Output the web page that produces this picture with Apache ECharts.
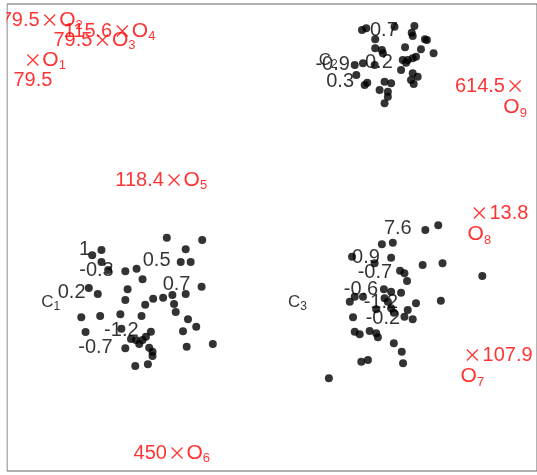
<!DOCTYPE html>
<html><head><meta charset="utf-8">
<script src="https://cdn.jsdelivr.net/npm/echarts@6/dist/echarts.min.js"></script>
<style>html,body{margin:0;padding:0;background:#fff}#c{width:537px;height:475px}</style>
</head><body><div id="c"></div>
<script>
// Cluster points (coordinates; y grows downward)
const clusterC1 = [[167.7,237.7],[203.3,240],[102,250],[92.7,255.3],[186.7,249.3],[102,262],[108.7,270],[126,271.3],[137.3,268.7],[181.7,262],[191.7,262],[143.3,279.3],[89.3,288],[98.3,294],[128.3,289.3],[126,300],[202.7,286.7],[186.7,294],[173.3,295],[164,297.7],[154,298.7],[146,304.7],[175,304],[176.7,312],[81.7,317.3],[100.7,316],[121,314.3],[142.3,316],[189,319.3],[197.3,326.7],[86,332],[122,328.7],[184,331.3],[151.7,331.7],[146.7,336.7],[143.3,340],[140,344],[136.7,340],[131.7,339],[126,348.3],[150,347.7],[153.3,351.7],[153.3,356],[187.7,346.7],[214,344],[136,366],[148.7,364.3]];
const clusterC2 = [[364,30],[368.3,28.3],[377.3,39.3],[396.7,26.7],[416.7,26],[414,32.7],[415,36],[427.3,39.3],[429.3,40],[377.3,48.3],[384,50],[385,53.3],[407.3,47.3],[423.3,49.3],[436,53.3],[418.3,56.7],[415,58.3],[410,60],[405,60],[408.3,62.7],[365,63.3],[356.7,65],[376.7,65],[403.3,70],[415,73.3],[420,76.7],[358.3,75],[413.3,80],[416,84],[369.3,82.7],[366.7,85],[386.7,81.7],[393.3,83.3],[381.7,90],[390,91.7],[390,96.7],[386.7,103.3]];
const clusterC3 = [[427.7,230],[440.7,225.3],[384,244.3],[395,242.7],[354,256.7],[393.3,257.7],[376.7,263.3],[425,265],[445,263.3],[402.3,270.7],[406.7,273.3],[409.3,281],[485,276],[386,289.3],[393.3,291.7],[403.3,292.7],[356.7,296.7],[365,296.7],[351.7,301.7],[386.7,298.3],[390,301.7],[418.3,303.3],[443.3,300.7],[378.3,309.3],[393.3,308.3],[396,312.7],[410,310],[406.7,316.7],[415,319.3],[355,317.3],[356.7,331.7],[361.7,334.3],[371.7,331],[378.3,333.3],[380,337.3],[396,343.3],[404,351.7],[363.3,361.7],[370,360],[405.3,363.3],[330.7,378.3]];

// Point annotations (text and where it sits)
const noteTexts = ['1','-0.3','0.2','0.5','0.7','-1.2','-0.7','0.7','-0.9','0.2','0.3','7.6','0.9','-0.7','-0.6','-1.2','-0.2'];
const notePos = [[85,249],[97,270],[72,292],[157.5,260],[177.5,284],[122,330],[96,347],[386,30],[334.5,64],[381,62],[342,81.5],[400,228],[368,257.5],[377,272],[363,289],[383,302],[385,318]];

// Cluster names
const clusterNames = ['1','2','3'];
const clusterNamePos = [[51,302],[330,60],[299,302]];

// Outliers
const outIds = ['1','2','3','4','5','6','7','8','9'];
const outValues = ['79.5','79.5','79.5','115.6','118.4','450','107.9','13.8','614.5'];
const outPos = [[33,60],[50,20],[103,40],[123,31],[175,180],[178,453],[475,355],[482,213],[518,86]];
const outValueSide = ['bottom','left','left','left','left','left','right','right','left'];
const outIdSide = ['right','right','right','right','right','right','bottom','bottom','bottom'];

const FONT = '"Liberation Sans", Arial, sans-serif';
const RED = '#ff0000';
const INK = '#000000';

const chart = echarts.init(document.getElementById('c'), null, {renderer:'canvas'});
const hidden = {show:false};
chart.setOption({
  animation:false,
  backgroundColor:'#ffffff',
  grid:{left:7, top:4, right:-3, bottom:4, show:true, borderColor:'#666', borderWidth:1, backgroundColor:'transparent'},
  xAxis:{type:'value', min:7, max:540, axisLine:hidden, axisTick:hidden, axisLabel:hidden, splitLine:hidden},
  yAxis:{type:'value', min:4, max:471, inverse:true, axisLine:hidden, axisTick:hidden, axisLabel:hidden, splitLine:hidden},
  graphic:[{type:'rect', z:1000, shape:{x:0, y:0, width:6.5, height:475}, style:{fill:'#ffffff'}, silent:true}],
  series:[
    {type:'scatter', z:1, symbolSize:1, itemStyle:{color:'rgba(0,0,0,0)'},
     data: noteTexts.map((t,i)=>({value:notePos[i], name:t})),
     label:{show:true, position:'inside', formatter:p=>p.name, color:INK, fontFamily:FONT, fontSize:20}},
    {type:'scatter', z:1, symbolSize:1, itemStyle:{color:'rgba(0,0,0,0)'},
     data: clusterNames.map((t,i)=>({value:clusterNamePos[i], name:t})),
     label:{show:true, position:'inside', formatter:p=>'{c|C}{s|'+p.name+'}', color:INK, fontFamily:FONT,
       rich:{c:{fontSize:17, fontFamily:FONT, color:INK}, s:{fontSize:12, fontFamily:FONT, color:INK, padding:[9,0,0,0]}}}},
    {type:'scatter', z:3, symbolSize:8, itemStyle:{color:'#000'}, data:clusterC1},
    {type:'scatter', z:3, symbolSize:8, itemStyle:{color:'#000'}, data:clusterC2},
    {type:'scatter', z:3, symbolSize:8, itemStyle:{color:'#000'}, data:clusterC3},
    {type:'scatter', z:4, symbol:'path://M0,0L10,10M10,0L0,10', symbolSize:11,
     itemStyle:{color:'rgba(0,0,0,0)', borderColor:RED, borderWidth:1.3},
     data: outValues.map((v,i)=>({value:outPos[i], name:v, label:{position:outValueSide[i]}})),
     label:{show:true, formatter:p=>p.name, color:RED, fontFamily:FONT, fontSize:20, distance:4}},
    {type:'scatter', z:4, symbolSize:11, itemStyle:{color:'rgba(0,0,0,0)'},
     data: outIds.map((v,i)=>({value:outPos[i], name:v, label:{position:outIdSide[i]}})),
     label:{show:true, formatter:p=>'{o|O}{s|'+p.name+'}', color:RED, fontFamily:FONT, distance:4,
       rich:{o:{fontSize:21, fontFamily:FONT, color:RED}, s:{fontSize:13, fontFamily:FONT, color:RED, padding:[11,0,0,0]}}}}
  ]
});
</script></body></html>
